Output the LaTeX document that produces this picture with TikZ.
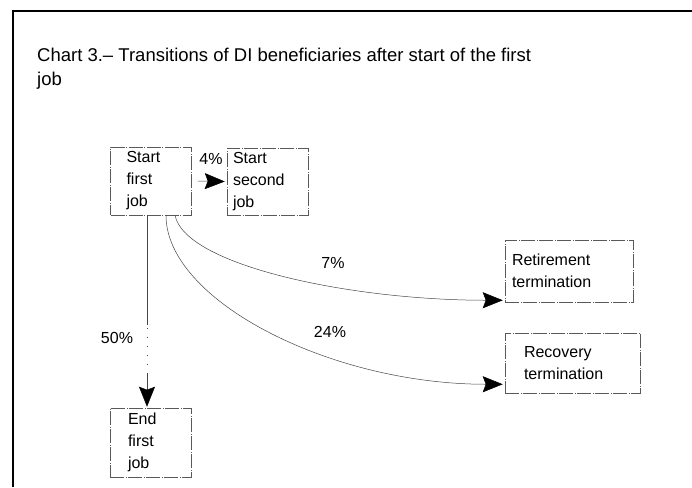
\documentclass[tikz,border=0pt]{standalone}
\usepackage{fontspec}
\setmainfont{Liberation Sans}
\usetikzlibrary{arrows.meta,calc}
\begin{document}
\begin{tikzpicture}[x=1pt,y=-1pt,
  box/.style={draw=gray!70!black, line width=0.5pt,
    dash pattern=on 14pt off 1.5pt on 1pt off 1.5pt,
    rectangle, align=left, font=\fontsize{16}{22}\selectfont,
    inner ysep=0pt, anchor=center},
  lbl/.style={font=\fontsize{16}{18}\selectfont, inner sep=0pt, anchor=center},
  arr/.style={-{Stealth[length=20pt,width=16pt,inset=3pt,color=black]}, line width=0.5pt, draw=gray!55!black},
  frame/.style={line width=1.4pt, black},
]
\useasboundingbox (0,0) rectangle (692,487);
% frame
\coordinate (ftl) at (13,11);
\coordinate (ftr) at (692,11);
\coordinate (fbl) at (13,487);
\draw[frame] (ftr) -- (ftl) -- (fbl);
% title
\node[font=\fontsize{18.5}{24}\selectfont, align=left, anchor=base west, inner sep=0pt] (title) at (37,85)
  {Chart 3.– Transitions of DI beneficiaries after start of the first\\job};
% boxes
\node[box, minimum width=81pt, minimum height=68pt, text width=49pt, inner xsep=16pt] (s1) at (151,181) {Start\\first\\job};
\node[box, minimum width=81pt, minimum height=67pt, text width=69pt, inner xsep=6pt] (s2) at (267.5,181.5) {Start\\second\\job};
\node[box, minimum width=128pt, minimum height=62pt, text width=114pt, inner xsep=7pt] (ret) at (569,271) {Retirement\\termination};
\node[box, minimum width=135pt, minimum height=60pt, text width=97pt, inner xsep=19pt] (rec) at (572.5,363) {Recovery\\termination};
\node[box, minimum width=81pt, minimum height=69pt, text width=45pt, inner xsep=18pt] (e1) at (150.5,442.5) {End\\first\\job};
% connectors
\draw[arr] ([xshift=6pt]s1.east) -- ([xshift=-2pt]s2.west);
\draw[arr] ([xshift=24pt]s1.south) .. controls ([xshift=34pt,yshift=-50pt]s1.south) and ([xshift=-155pt,yshift=2pt]ret.south west) .. ([xshift=-2pt,yshift=2pt]ret.south west);
\draw[arr] ([xshift=15pt]s1.south) .. controls ([xshift=15pt,yshift=-85pt]s1.south) and ([xshift=-175pt,yshift=9pt]rec.south west) .. ([xshift=-2pt,yshift=9pt]rec.south west);
\draw[arr, dash pattern=on 110pt off 3pt on 1pt off 8pt on 1pt off 8pt on 1pt off 8pt on 1pt off 8pt on 1pt off 8pt] ([xshift=-4pt]s1.south) -- ([xshift=-3.5pt,yshift=1pt]e1.north);
% labels
\node[lbl] (l4) at (211,159) {4\%};
\node[lbl] (l7) at (333,263) {7\%};
\node[lbl] (l24) at (330,332) {24\%};
\node[lbl] (l50) at (117,338) {50\%};
\end{tikzpicture}
\end{document}
